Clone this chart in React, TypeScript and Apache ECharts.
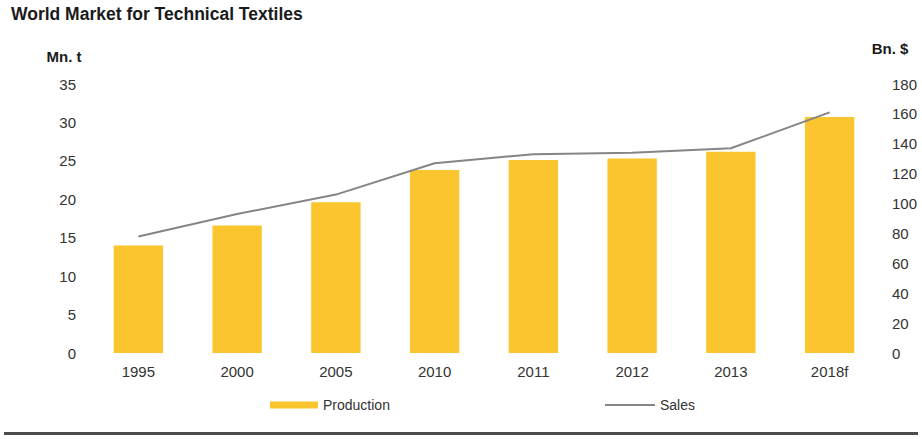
import React, { useEffect, useRef } from "react";
import * as echarts from "echarts";

const categories = ["1995", "2000", "2005", "2010", "2011", "2012", "2013", "2018f"];
const production = [14, 16.6, 19.6, 23.8, 25.1, 25.3, 26.2, 30.7];
const sales = [78, 93, 106, 127, 133, 134, 137, 161];
const titleText = "World Market for Technical Textiles";
const leftUnit = "Mn. t";
const rightUnit = "Bn. $";

const FONT = "'Liberation Sans', Arial, sans-serif";
const BAR = "#FBC52F";
const LINE = "#858585";

export default function App() {
  const ref = useRef<HTMLDivElement>(null);
  useEffect(() => {
    if (!ref.current) return;
    const chart = echarts.init(ref.current, undefined, { renderer: "svg" });
    chart.setOption({
      animation: false,
      backgroundColor: "#ffffff",
      textStyle: { fontFamily: FONT },
      title: {
        text: titleText,
        left: 6,
        top: 0,
        textStyle: { fontSize: 17.5, fontWeight: "bold", color: "#1a1a1a", fontFamily: FONT },
      },
      grid: { left: 89, right: 43, top: 84, bottom: 86 },
      legend: [
        {
          data: [{ name: "Production", icon: "rect" }],
          left: 265,
          top: 393,
          itemWidth: 48,
          itemHeight: 7,
          itemGap: 5,
          textStyle: { fontSize: 14, color: "#333", fontFamily: FONT },
        },
        {
          data: [{ name: "Sales", icon: "rect" }],
          left: 600,
          top: 393,
          itemWidth: 50,
          itemHeight: 2,
          textStyle: { fontSize: 14, color: "#333", fontFamily: FONT },
        },
      ],
      xAxis: {
        type: "category",
        data: categories,
        axisLine: { show: false },
        axisTick: { show: false },
        axisLabel: { fontSize: 15, color: "#333", margin: 11, fontFamily: FONT },
      },
      yAxis: [
        {
          type: "value",
          min: 0,
          max: 35,
          interval: 5,
          splitLine: { show: false },
          axisLine: { show: false },
          axisTick: { show: false },
          axisLabel: { fontSize: 15, color: "#333", margin: 13, fontFamily: FONT },
        },
        {
          type: "value",
          min: 0,
          max: 180,
          interval: 20,
          position: "right",
          splitLine: { show: false },
          axisLine: { show: false },
          axisTick: { show: false },
          axisLabel: { fontSize: 15, color: "#333", margin: 13, fontFamily: FONT },
        },
      ],
      series: [
        {
          name: "Production",
          type: "bar",
          data: production,
          barWidth: "50%",
          itemStyle: { color: BAR },
          yAxisIndex: 0,
        },
        {
          name: "Sales",
          type: "line",
          data: sales,
          yAxisIndex: 1,
          symbol: "none",
          color: LINE,
          lineStyle: { color: LINE, width: 2 },
          itemStyle: { color: LINE },
        },
      ],
      graphic: [
        {
          type: "text",
          x: 64,
          y: 56,
          style: {
            text: leftUnit,
            fontSize: 15,
            fontWeight: "bold",
            fontFamily: FONT,
            fill: "#1a1a1a",
            align: "center",
            verticalAlign: "middle",
          },
        },
        {
          type: "text",
          x: 890,
          y: 48,
          style: {
            text: rightUnit,
            fontSize: 15,
            fontWeight: "bold",
            fontFamily: FONT,
            fill: "#1a1a1a",
            align: "center",
            verticalAlign: "middle",
          },
        },
        {
          type: "line",
          shape: { x1: 4, y1: 433.5, x2: 918, y2: 433.5 },
          style: { stroke: "#4d4d4d", lineWidth: 3 },
        },
      ],
    });
    return () => chart.dispose();
  }, []);
  return (
    <div
      ref={ref}
      style={{ position: "absolute", left: 0, top: 0, width: 922, height: 439 }}
    />
  );
}
